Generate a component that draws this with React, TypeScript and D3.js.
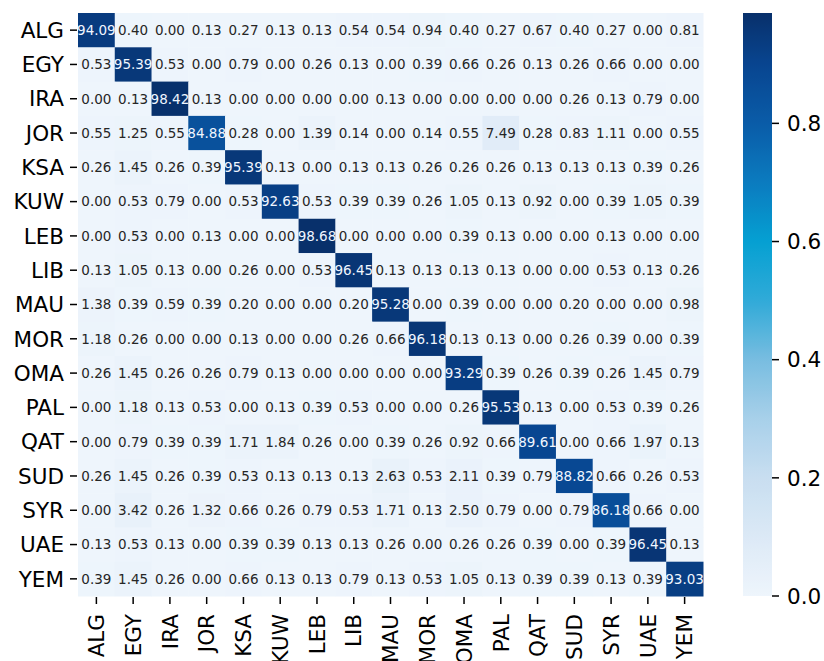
import React from "react";
import * as d3 from "d3";

const labels = ["ALG","EGY","IRA","JOR","KSA","KUW","LEB","LIB","MAU","MOR","OMA","PAL","QAT","SUD","SYR","UAE","YEM"];

const rowALG = [94.09,0.40,0.00,0.13,0.27,0.13,0.13,0.54,0.54,0.94,0.40,0.27,0.67,0.40,0.27,0.00,0.81];
const rowEGY = [0.53,95.39,0.53,0.00,0.79,0.00,0.26,0.13,0.00,0.39,0.66,0.26,0.13,0.26,0.66,0.00,0.00];
const rowIRA = [0.00,0.13,98.42,0.13,0.00,0.00,0.00,0.00,0.13,0.00,0.00,0.00,0.00,0.26,0.13,0.79,0.00];
const rowJOR = [0.55,1.25,0.55,84.88,0.28,0.00,1.39,0.14,0.00,0.14,0.55,7.49,0.28,0.83,1.11,0.00,0.55];
const rowKSA = [0.26,1.45,0.26,0.39,95.39,0.13,0.00,0.13,0.13,0.26,0.26,0.26,0.13,0.13,0.13,0.39,0.26];
const rowKUW = [0.00,0.53,0.79,0.00,0.53,92.63,0.53,0.39,0.39,0.26,1.05,0.13,0.92,0.00,0.39,1.05,0.39];
const rowLEB = [0.00,0.53,0.00,0.13,0.00,0.00,98.68,0.00,0.00,0.00,0.39,0.13,0.00,0.00,0.13,0.00,0.00];
const rowLIB = [0.13,1.05,0.13,0.00,0.26,0.00,0.53,96.45,0.13,0.13,0.13,0.13,0.00,0.00,0.53,0.13,0.26];
const rowMAU = [1.38,0.39,0.59,0.39,0.20,0.00,0.00,0.20,95.28,0.00,0.39,0.00,0.00,0.20,0.00,0.00,0.98];
const rowMOR = [1.18,0.26,0.00,0.00,0.13,0.00,0.00,0.26,0.66,96.18,0.13,0.13,0.00,0.26,0.39,0.00,0.39];
const rowOMA = [0.26,1.45,0.26,0.26,0.79,0.13,0.00,0.00,0.00,0.00,93.29,0.39,0.26,0.39,0.26,1.45,0.79];
const rowPAL = [0.00,1.18,0.13,0.53,0.00,0.13,0.39,0.53,0.00,0.00,0.26,95.53,0.13,0.00,0.53,0.39,0.26];
const rowQAT = [0.00,0.79,0.39,0.39,1.71,1.84,0.26,0.00,0.39,0.26,0.92,0.66,89.61,0.00,0.66,1.97,0.13];
const rowSUD = [0.26,1.45,0.26,0.39,0.53,0.13,0.13,0.13,2.63,0.53,2.11,0.39,0.79,88.82,0.66,0.26,0.53];
const rowSYR = [0.00,3.42,0.26,1.32,0.66,0.26,0.79,0.53,1.71,0.13,2.50,0.79,0.00,0.79,86.18,0.66,0.00];
const rowUAE = [0.13,0.53,0.13,0.00,0.39,0.39,0.13,0.13,0.26,0.00,0.26,0.26,0.39,0.00,0.39,96.45,0.13];
const rowYEM = [0.39,1.45,0.26,0.00,0.66,0.13,0.13,0.79,0.13,0.53,1.05,0.13,0.39,0.39,0.13,0.39,93.03];

const matrix = [rowALG,rowEGY,rowIRA,rowJOR,rowKSA,rowKUW,rowLEB,rowLIB,rowMAU,rowMOR,rowOMA,rowPAL,rowQAT,rowSUD,rowSYR,rowUAE,rowYEM];

const colorbarTicks = [0.0, 0.2, 0.4, 0.6, 0.8];

const cmapStops = [0.0, 0.1, 0.2, 0.3, 0.4, 0.5, 0.6, 0.7, 0.8, 0.9, 0.9868];
const cmapColors = ["#eef5fc","#dce9f6","#c8def0","#a8d0ea","#78bde0","#30aad8","#05a0d2","#0b7bbf","#0a5ca8","#084590","#08306b"];

const W = 824, H = 661;
const left = 78, right = 703, top = 13, bottom = 596;
const cbLeft = 743, cbRight = 772;
const FONT = "DejaVu Sans, sans-serif";
const LABEL_SIZE = 21.5;

export default function App() {
  const x = d3.scaleBand().domain(labels).range([left, right]);
  const y = d3.scaleBand().domain(labels).range([top, bottom]);
  const color = d3.scaleLinear<string>().domain(cmapStops).range(cmapColors).interpolate(d3.interpolateRgb).clamp(true);
  const vmax = 0.9868;
  const cbY = d3.scaleLinear().domain([0, vmax]).range([bottom, top]);
  const gradStops = d3.range(0, 101).map(i => i / 100);

  const cells: React.ReactNode[] = [];
  matrix.forEach((row, i) => {
    row.forEach((v, j) => {
      const f = v / 100;
      const rgb = d3.rgb(color(f));
      const lum = (0.2126 * rgb.r + 0.7152 * rgb.g + 0.0722 * rgb.b) / 255;
      cells.push(
        <g key={`${i}-${j}`}>
          <rect x={x(labels[j])} y={y(labels[i])} width={x.bandwidth() + 0.5} height={y.bandwidth() + 0.5} fill={color(f)} />
          <text x={x(labels[j])! + x.bandwidth() / 2} y={y(labels[i])! + y.bandwidth() / 2} dy="0.36em"
            textAnchor="middle" fontSize={13.5} fontFamily={FONT} fill={lum > 0.408 ? "#262626" : "#f0f6ff"}>
            {v.toFixed(2)}
          </text>
        </g>
      );
    });
  });

  return (
    <svg width={W} height={H} style={{ position: "absolute", left: 0, top: 0, background: "#fff" }}>
      <defs>
        <linearGradient id="cb" x1="0" y1="1" x2="0" y2="0">
          {gradStops.map(t => (
            <stop key={t} offset={t} stopColor={color(t * vmax)} />
          ))}
        </linearGradient>
      </defs>
      {cells}
      {labels.map(l => (
        <g key={"y" + l}>
          <line x1={left - 8} x2={left - 1} y1={y(l)! + y.bandwidth() / 2} y2={y(l)! + y.bandwidth() / 2} stroke="#000" strokeWidth={1.5} />
          <text x={left - 14} y={y(l)! + y.bandwidth() / 2} dy="0.36em" textAnchor="end" fontSize={LABEL_SIZE} fontFamily={FONT} fill="#000">{l}</text>
        </g>
      ))}
      {labels.map(l => (
        <g key={"x" + l}>
          <line x1={x(l)! + x.bandwidth() / 2} x2={x(l)! + x.bandwidth() / 2} y1={bottom + 1} y2={bottom + 8} stroke="#000" strokeWidth={1.5} />
          <text transform={`translate(${x(l)! + x.bandwidth() / 2},${bottom + 18}) rotate(-90)`} dy="0.36em" textAnchor="end" fontSize={LABEL_SIZE} fontFamily={FONT} fill="#000">{l}</text>
        </g>
      ))}
      <rect x={cbLeft} y={top} width={cbRight - cbLeft} height={bottom - top} fill="url(#cb)" />
      {colorbarTicks.map(t => (
        <g key={"c" + t}>
          <line x1={cbRight} x2={cbRight + 7} y1={cbY(t)} y2={cbY(t)} stroke="#000" strokeWidth={1.5} />
          <text x={cbRight + 15} y={cbY(t)} dy="0.36em" fontSize={LABEL_SIZE} fontFamily={FONT} fill="#000">{t.toFixed(1)}</text>
        </g>
      ))}
    </svg>
  );
}
